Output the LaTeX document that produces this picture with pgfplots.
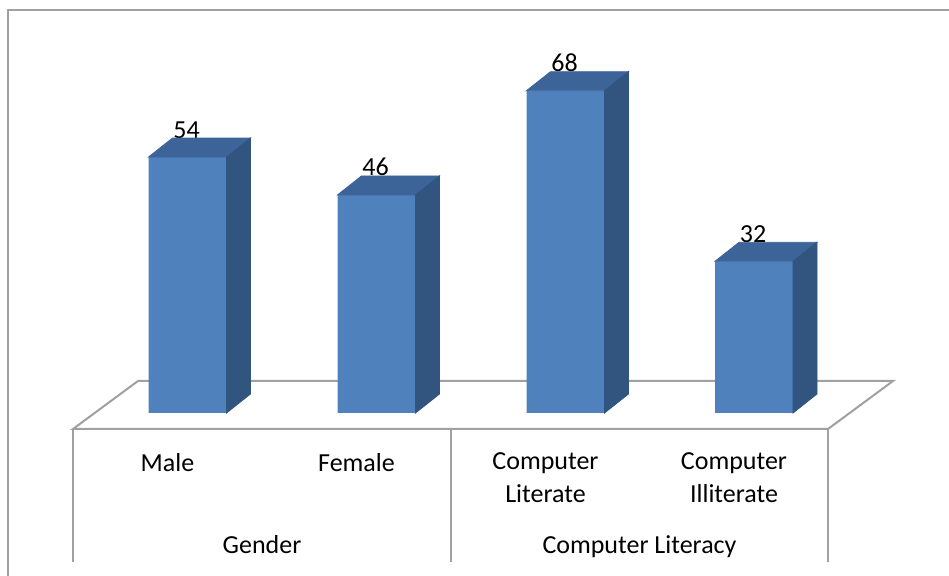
\documentclass[border=0pt]{standalone}
\usepackage{pgfplots}
\pgfplotsset{compat=1.18}
\usepackage{fontspec}
\setmainfont{Carlito}
\definecolor{front}{HTML}{4F81BD}
\definecolor{topc}{HTML}{3C6499}
\definecolor{side}{HTML}{31557F}
\definecolor{frame}{HTML}{A0A0A0}
\begin{document}
\begin{tikzpicture}
\begin{scope}[x=0.5pt,y=-0.5pt]
\draw[frame, line width=1pt] (73,429) -- (138,381) -- (893,381) -- (828,429) -- cycle;
\end{scope}
\begin{axis}[at={(0,0)}, anchor=north west, scale only axis, width=474.5pt, height=288pt,
 xmin=0, xmax=949, ymin=-34.388, ymax=87.131, clip=false,
 axis line style={draw=none}, tick style={draw=none}, ytick=\empty,
 xtick={167.5,356.5,545.5,734},
 xticklabels={Male,Female,{Computer\\Literate},{Computer\\Illiterate}},
 xticklabel style={align=center, anchor=north, yshift=65pt, font=\fontsize{13}{16.5}\selectfont},
 /pgf/number format/assume math mode=true,
]
\addplot[ybar, bar width=39pt, bar shift=10pt, fill=front, draw=none,
  nodes near coords, every node near coord/.append style={anchor=base, xshift=9.5pt, yshift=9.5pt, font=\fontsize{13}{16}\selectfont, text=black}]
 coordinates {(167.5,54) (356.5,46) (545.5,68) (734,32)};
\addplot[only marks, scatter, mark=text, text mark={},
  visualization depends on={rawy \as \val},
  scatter/@pre marker code/.code={%
    \pgfmathsetmacro{\h}{\val*2.37}%
    \fill[topc] (-9.5pt,0pt) -- (29.5pt,0pt) -- (41.5pt,9.5pt) -- (2.5pt,9.5pt) -- cycle;
    \fill[side] (29.5pt,0pt) -- (41.5pt,9.5pt) -- ({41.5pt},{9.5pt-\h pt}) -- ({29.5pt},{-\h pt}) -- cycle;
  },
  scatter/@post marker code/.code={}]
 coordinates {(167.5,54) (356.5,46) (545.5,68) (734,32)};
\end{axis}
\begin{scope}[x=0.5pt,y=-0.5pt]
\draw[frame, line width=1.1pt] (8,576) -- (8,10) -- (949,10);
\draw[frame, line width=1pt] (73,429) -- (73,562);
\draw[frame, line width=1pt] (451,429) -- (451,562);
\draw[frame, line width=1pt] (828,429) -- (828,562);
\node[anchor=base, font=\fontsize{13}{16}\selectfont, inner sep=0pt] at (262,554) {Gender};
\node[anchor=base, font=\fontsize{13}{16}\selectfont, inner sep=0pt] at (639.5,554) {Computer Literacy};
\end{scope}
\pgfresetboundingbox
\path (0,0) rectangle (474.5pt,-288pt);
\end{tikzpicture}
\end{document}
